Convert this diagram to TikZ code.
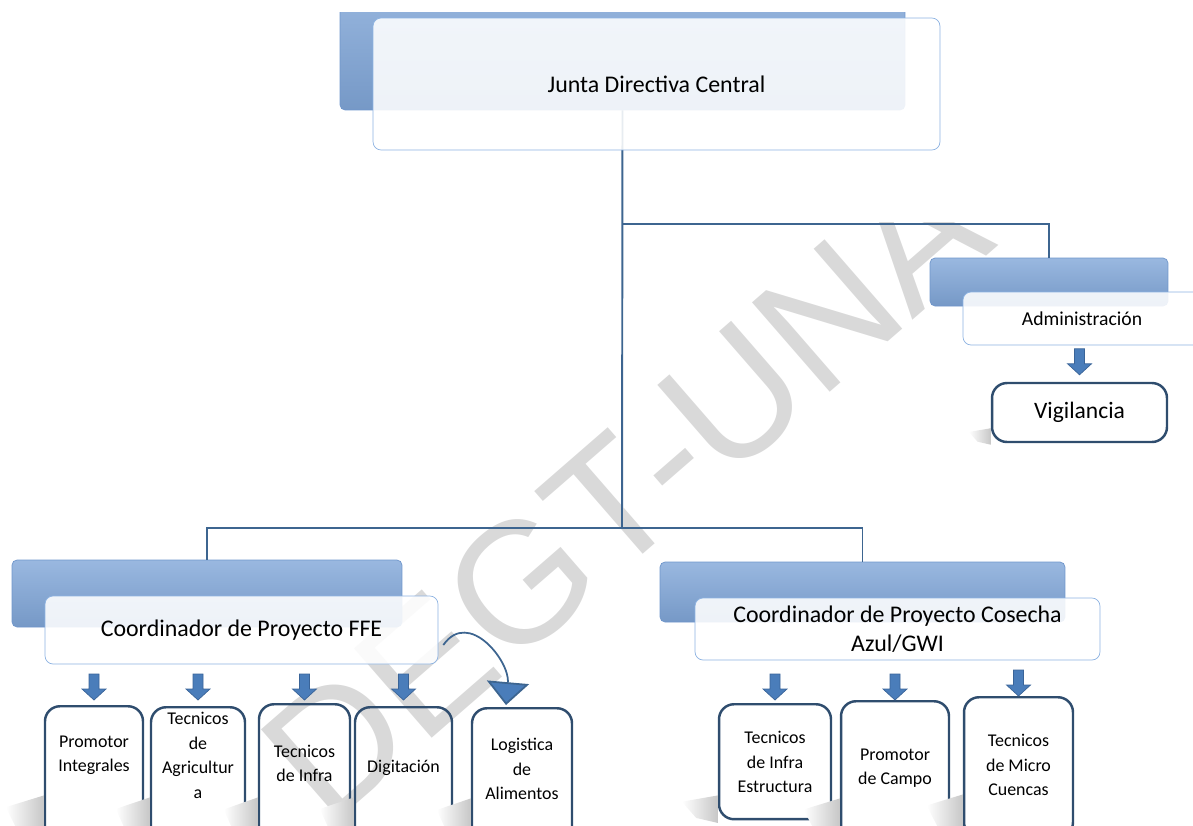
\documentclass[tikz,border=0pt]{standalone}
\usepackage{fontspec}
\setmainfont{Carlito}
\newfontfamily\markfont{Liberation Sans}
\usetikzlibrary{arrows.meta,calc}
\definecolor{backblue}{HTML}{80A6D8}
\definecolor{backedge}{HTML}{6F96CB}
\definecolor{paleedge}{HTML}{8DB3E2}
\definecolor{linkblue}{HTML}{3D6590}
\definecolor{kidedge}{HTML}{2F4D6E}
\definecolor{arrowfill}{HTML}{4A7DBA}
\definecolor{arrowedge}{HTML}{3A6498}
\definecolor{markgray}{HTML}{D9D9D9}
\tikzset{backbox/.style = {draw=backedge, top color=backblue!80!white, bottom color=backblue!92!black, rounded corners=0.1cm, inner sep=0pt}}
\tikzset{frontbox/.style = {draw=paleedge, fill=white, fill opacity=0.88, text opacity=1, rounded corners=0.16cm, inner sep=0pt, align=center}}
\tikzset{kid/.style = {draw=kidedge, line width=1.4pt, rounded corners=0.3cm, anchor=north, inner sep=0pt}}
\tikzset{kidtext/.style = {align=center, font=\fontsize{10.2}{13.9}\selectfont}}
\tikzset{link/.style = {draw=linkblue, line width=1.1pt}}
% block arrow above a box: node, gap
\newcommand{\blockarrow}[2]{\filldraw[fill=arrowfill, draw=arrowedge, line width=0.4pt]
  ($(#1.north)+(0,-#2)$) -- ++(-12,-11) -- ++(7,0) -- ++(0,-15) -- ++(10,0) -- ++(0,15) -- ++(7,0) -- cycle;}
% floor shadow left of a box: node, height, length
\newcommand{\floorshade}[3]{\shade[left color=white, right color=black!22]
  ($(#1.south west)+(0,-#2)$) -- ++(-#3,0.25*#2) -- ++(0.4*#3,0.65*#2) -- ($(#1.south west)+(0,0.1*#2)$) -- cycle;}

\begin{document}
\begin{tikzpicture}[x=0.02cm, y=-0.02cm]
    \useasboundingbox (0,0) rectangle (1193,825);
    \clip (0,0) rectangle (1193,825);

    \begin{scope}
        \clip (0,222) rectangle (1193,825);
        \node[text=markgray, rotate=41, font=\markfont\fontsize{98}{98}\selectfont] (mark) at (625,492) {DEGT-UNA};
    \end{scope}

    % back boxes
    \begin{scope}
        \clip (0,12) rectangle (1193,300);
        \node[backbox, minimum width=11.3cm, minimum height=2.6cm] (topback) at (622.5,45) {};
    \end{scope}
    \node[backbox, minimum width=4.76cm, minimum height=0.96cm] (admback) at (1049,282) {};
    \node[backbox, minimum width=7.8cm, minimum height=1.34cm] (ffeback) at (207,593.5) {};
    \node[backbox, minimum width=8.1cm, minimum height=1.2cm] (cosback) at (862.5,592) {};

    \coordinate (split) at (622,224);
    \coordinate (hub) at (622,528);
    \draw[link] (topback.south) -- (hub);
    \draw[link] (split) -| (admback.north);
    \draw[link] (hub) -| (ffeback.north);
    \draw[link] (hub) -| (cosback.north);

    % front boxes
    \node[frontbox, minimum width=11.34cm, minimum height=2.64cm, font=\fontsize{13.6}{16}\selectfont] (junta) at (656.5,84) {Junta Directiva Central};
    \node[frontbox, minimum width=4.76cm, minimum height=1.06cm, font=\fontsize{11.2}{13}\selectfont] (admin) at (1082,318.5) {Administración};
    \node[frontbox, minimum width=7.86cm, minimum height=1.36cm, font=\fontsize{13.6}{16}\selectfont] (ffe) at (241.5,630) {Coordinador de Proyecto FFE};
    \node[frontbox, minimum width=8.1cm, minimum height=1.24cm, font=\fontsize{13.6}{16.4}\selectfont] (cos) at (897.5,629) {Coordinador de Proyecto Cosecha\\Azul/GWI};

    % lower boxes
    \node[kid, minimum width=3.5cm, minimum height=1.18cm, anchor=center, fill=white, font=\fontsize{13.4}{16}\selectfont] (vig) at (1079.5,412.5) {Vigilancia};
    \node[kid, minimum width=1.96cm, minimum height=2.7cm] (p1) at (94,705) {};
    \node[kid, minimum width=1.88cm, minimum height=2.7cm] (p2) at (198,706) {};
    \node[kid, minimum width=1.82cm, minimum height=2.8cm] (p3) at (304.5,703) {};
    \node[kid, minimum width=1.94cm, minimum height=2.7cm] (p4) at (403.5,706) {};
    \node[kid, minimum width=2.0cm, minimum height=2.7cm] (p5) at (522,707) {};
    \node[kid, minimum width=2.24cm, minimum height=2.3cm] (c1) at (775,703) {};
    \node[kid, minimum width=2.16cm, minimum height=2.8cm] (c2) at (895,700) {};
    \node[kid, minimum width=2.18cm, minimum height=2.8cm] (c3) at (1018.5,696) {};

    \floorshade{vig}{15}{22}
    \floorshade{p1}{47}{38}
    \floorshade{p2}{46}{34}
    \floorshade{p3}{48}{34}
    \floorshade{p4}{46}{34}
    \floorshade{p5}{46}{34}
    \floorshade{c1}{25}{36}
    \floorshade{c2}{44}{36}
    \floorshade{c3}{44}{36}

    \node[kidtext] (p1t) at (94,755) {Promotor\\Integrales};
    \node[kidtext] (p2t) at (198,755.5) {Tecnicos\\de\\Agricultur\\a};
    \node[kidtext] (p3t) at (304.5,763.5) {Tecnicos\\de Infra};
    \node[kidtext] (p4t) at (403.5,768) {Digitación};
    \node[kidtext] (p5t) at (522,769) {Logistica\\de\\Alimentos};
    \node[kidtext] (c1t) at (775,762) {Tecnicos\\de Infra\\Estructura};
    \node[kidtext] (c2t) at (895,768) {Promotor\\de Campo};
    \node[kidtext] (c3t) at (1018.5,765) {Tecnicos\\de Micro\\Cuencas};

    \blockarrow{vig}{7}
    \blockarrow{p1}{5}
    \blockarrow{p2}{6}
    \blockarrow{p3}{3}
    \blockarrow{p4}{6}
    \blockarrow{c1}{3}
    \blockarrow{c2}{0}
    \blockarrow{c3}{0}

    \draw[draw=linkblue, line width=1pt, -{Triangle[width=24pt, length=13pt, fill=arrowfill]}]
        ([shift={(5,15)}]ffe.east) to[out=55, in=85, looseness=1.3] ([shift={(-16,-2)}]p5.north);
\end{tikzpicture}
\end{document}
